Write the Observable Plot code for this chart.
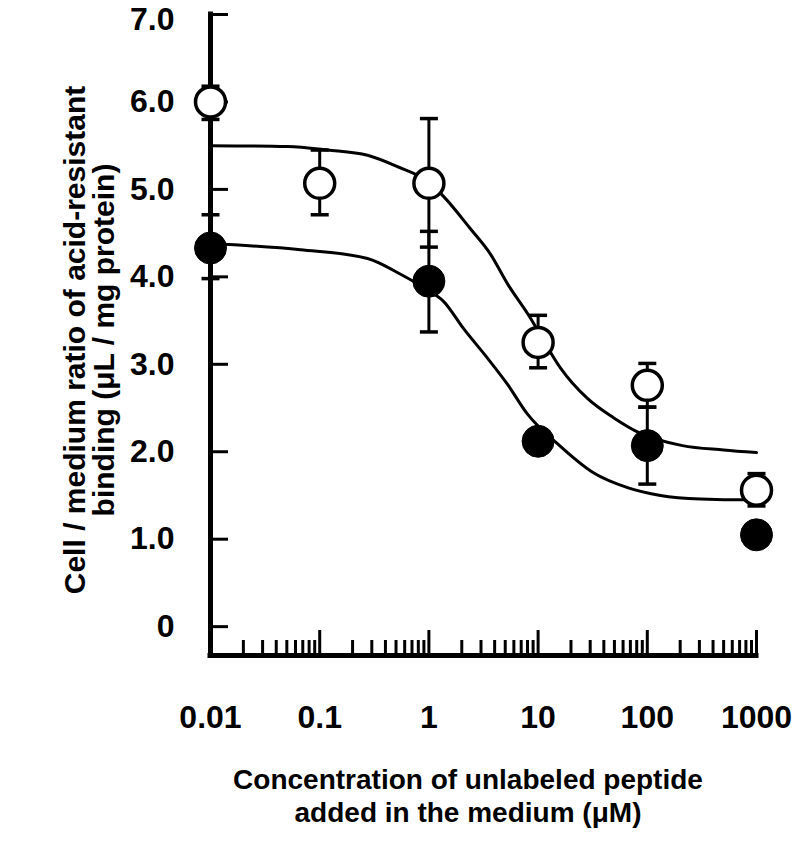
<!DOCTYPE html>
<html>
<head>
<meta charset="utf-8">
<script src="https://cdn.jsdelivr.net/npm/d3@7"></script>
<script src="https://cdn.jsdelivr.net/npm/@observablehq/plot@0.6"></script>
<style>
  html, body { margin: 0; padding: 0; background: #fff; }
  #wrap { position: relative; width: 793px; height: 843px; font-family: "Liberation Sans", Arial, Helvetica, sans-serif; font-weight: bold; color: #000; }
  .ytitle { position: absolute; left: 89px; top: 340px; transform: translate(-50%, -50%) rotate(-90deg); white-space: nowrap; text-align: center; font-size: 30px; line-height: 29px; }
  .xtitle { position: absolute; left: 468px; top: 763px; transform: translateX(-50%); white-space: nowrap; text-align: center; font-size: 28px; line-height: 33px; }
</style>
</head>
<body>
<div id="wrap">
  <div id="chart"></div>
  <div class="ytitle">Cell / medium ratio of acid-resistant<br>binding (μL / mg protein)</div>
  <div class="xtitle">Concentration of unlabeled peptide<br>added in the medium (μM)</div>
</div>
<script>
// ---- data ----
const xTicks = [0.01, 0.1, 1, 10, 100, 1000];
const xTickLabels = ["0.01", "0.1", "1", "10", "100", "1000"];
const yTicks = [0, 1, 2, 3, 4, 5, 6, 7];
const yTickLabels = ["0", "1.0", "2.0", "3.0", "4.0", "5.0", "6.0", "7.0"];
const yMin = -0.33;

// open circles
const openConc = [0.01, 0.1, 1, 10, 100, 1000];
const openMean = [6.00, 5.07, 5.07, 3.25, 2.76, 1.56];
const openHi   = [6.18, 5.45, 5.81, 3.56, 3.01, 1.75];
const openLo   = [5.80, 4.71, 4.34, 2.96, 2.51, 1.38];

// filled circles
const filledConc = [0.01, 1, 10, 100, 1000];
const filledMean = [4.33, 3.95, 2.12, 2.07, 1.05];
const filledHi   = [4.71, 4.52, null, 2.51, null];
const filledLo   = [3.98, 3.37, null, 1.63, null];

// fitted curves
const upperCurveX = [0.01, 0.0507, 0.118, 0.274, 0.515, 1.0, 1.36, 2.4, 3.66, 5.25, 8.5, 10, 16.0, 28.3, 49, 86.7, 210, 499, 1000];
const upperCurveY = [5.50, 5.49, 5.45, 5.39, 5.26, 5.08, 4.92, 4.55, 4.26, 3.92, 3.53, 3.38, 2.96, 2.61, 2.39, 2.21, 2.07, 2.02, 1.99];
const lowerCurveX = [0.01, 0.0667, 0.274, 0.55, 1.0, 1.36, 2.07, 3.44, 5.25, 8.0, 15.1, 32.1, 65.9, 132, 307, 828, 1000];
const lowerCurveY = [4.38, 4.31, 4.21, 4.03, 3.84, 3.72, 3.41, 3.07, 2.77, 2.43, 2.09, 1.76, 1.59, 1.50, 1.46, 1.45, 1.45];

// ---- build tables ----
const openData = openConc.map((c, i) => ({c, m: openMean[i], hi: openHi[i], lo: openLo[i]}));
const filledData = filledConc.map((c, i) => ({c, m: filledMean[i], hi: filledHi[i], lo: filledLo[i]}));
const filledErr = filledData.filter(d => d.hi != null);
const upperCurve = upperCurveX.map((x, i) => ({x, y: upperCurveY[i]}));
const lowerCurve = lowerCurveX.map((x, i) => ({x, y: lowerCurveY[i]}));
const xMinor = [];
for (const dec of [0.01, 0.1, 1, 10, 100]) for (let k = 2; k <= 9; k++) xMinor.push(+(dec * k).toPrecision(3));
const yTopTick = yTicks[yTicks.length - 1];
const yOtherTicks = yTicks.slice(0, -1);
const yFmt = d => yTickLabels[yTicks.indexOf(d)];

const capSymbol = {
  draw(ctx, size) {
    const r = Math.sqrt(size / Math.PI);
    ctx.moveTo(-r, 0);
    ctx.lineTo(r, 0);
  }
};
const errBars = arr => [
  Plot.ruleX(arr, {x: "c", y1: "lo", y2: "hi", stroke: "black", strokeWidth: 3}),
  Plot.dot(arr, {x: "c", y: "hi", symbol: capSymbol, r: 9, stroke: "black", strokeWidth: 3.5}),
  Plot.dot(arr, {x: "c", y: "lo", symbol: capSymbol, r: 9, stroke: "black", strokeWidth: 3.5})
];

const chart = Plot.plot({
  width: 793,
  height: 843,
  marginLeft: 210,
  marginRight: 37,
  marginTop: 14,
  marginBottom: 188,
  style: {fontFamily: "'Liberation Sans', Arial, Helvetica, sans-serif", fontWeight: "bold", fontSize: "32px", color: "black", background: "white", overflow: "visible"},
  x: {type: "log", domain: [0.01, 1000]},
  y: {domain: [yMin, 7]},
  marks: [
    Plot.axisX(xMinor, {tickSize: -15, tickFormat: () => "", strokeWidth: 3, label: null}),
    Plot.axisX(xTicks, {tickSize: -25, tickPadding: 75, strokeWidth: 3, tickFormat: d => xTickLabels[xTicks.indexOf(d)], label: null}),
    Plot.axisY(yTicks, {tickSize: -18, tickFormat: () => "", strokeWidth: 3, label: null}),
    Plot.axisY(yOtherTicks, {tickSize: 0, tickPadding: 36, tickFormat: yFmt, label: null}),
    Plot.axisY([yTopTick], {tickSize: 0, tickPadding: 36, dy: 5, tickFormat: yFmt, label: null}),
    Plot.ruleX([0.01], {stroke: "black", strokeWidth: 5, strokeLinecap: "square"}),
    Plot.ruleY([yMin], {stroke: "black", strokeWidth: 5, strokeLinecap: "square"}),
    Plot.line(upperCurve, {x: "x", y: "y", curve: "monotone-x", stroke: "black", strokeWidth: 3}),
    Plot.line(lowerCurve, {x: "x", y: "y", curve: "monotone-x", stroke: "black", strokeWidth: 3}),
    ...errBars(filledErr),
    ...errBars(openData),
    Plot.dot(filledData, {x: "c", y: "m", r: 16, fill: "black", stroke: "black", strokeWidth: 1}),
    Plot.dot(openData, {x: "c", y: "m", r: 15, fill: "white", stroke: "black", strokeWidth: 3.5})
  ]
});
document.getElementById("chart").appendChild(chart);
</script>
</body>
</html>
